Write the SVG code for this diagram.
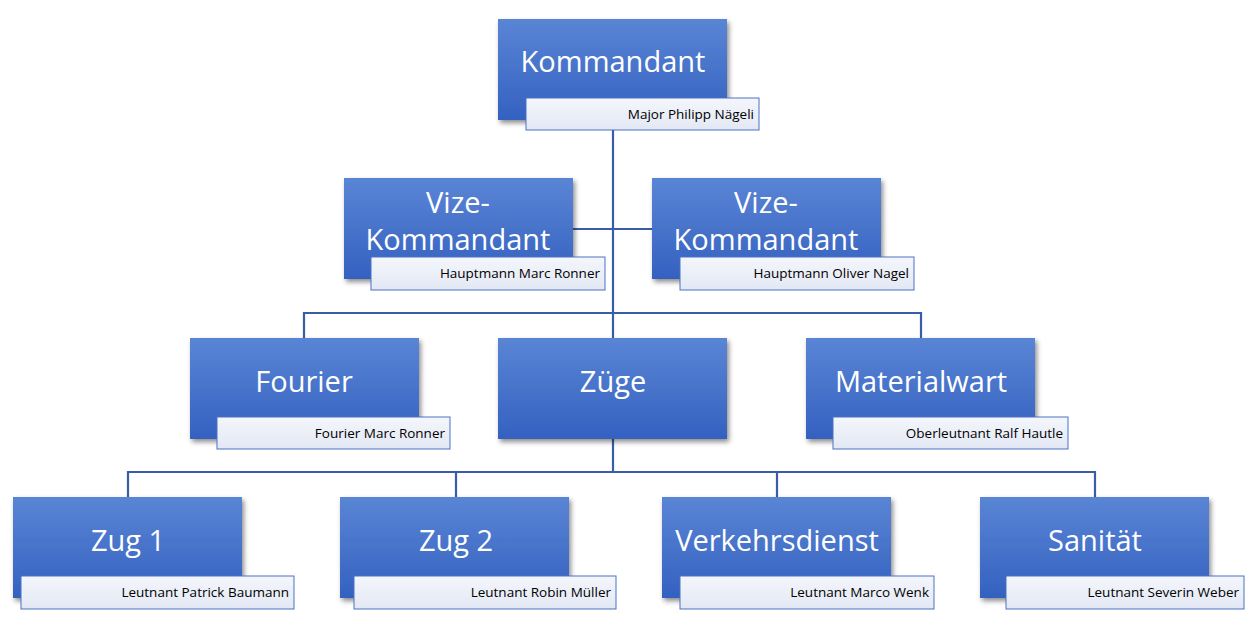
<svg xmlns="http://www.w3.org/2000/svg" width="1258" height="629" viewBox="0 0 1258 629">
<defs>
<linearGradient id="g" x1="0" y1="0" x2="0" y2="1"><stop offset="0" stop-color="#5A85D5"/><stop offset="1" stop-color="#3461C0"/></linearGradient>
<linearGradient id="lg" x1="0" y1="0" x2="0" y2="1"><stop offset="0" stop-color="#F4F6FB"/><stop offset="1" stop-color="#E2E8F4"/></linearGradient>
<filter id="sh" x="-10%" y="-10%" width="130%" height="130%"><feDropShadow dx="2" dy="3" stdDeviation="2.5" flood-color="#000" flood-opacity="0.45"/></filter>
</defs>
<style>
.b{fill:url(#g);filter:url(#sh)}
.l{fill:url(#lg);stroke:#4A72C4;stroke-width:1}
.t{font-family:"Open Sans","Liberation Sans",sans-serif;font-size:29px;fill:#fff;text-anchor:middle}
.s{font-family:"Open Sans","Liberation Sans",sans-serif;font-size:13.5px;fill:#000;text-anchor:end}
.c{stroke:#3A5DA8;stroke-width:2.2;fill:none}
</style>
<rect width="1258" height="629" fill="#fff"/>
<g id="connectors">
<path class="c" d="M613 130V472M573 229H652M304 338V313H921V338M613 313V338M128 497V472H1095V497M456 472V497M777 472V497"/>
</g>
<g id="kommandant"><rect class="b" x="498" y="19" width="229" height="101"/><text class="t" x="613" y="72">Kommandant</text><rect class="l" x="526" y="98" width="233" height="32"/><text class="s" x="754" y="119">Major Philipp Nägeli</text></g>
<g id="vize1"><rect class="b" x="344" y="178" width="229" height="101"/><text class="t" x="458" y="213">Vize-</text><text class="t" x="458" y="250">Kommandant</text><rect class="l" x="371" y="257" width="234" height="33"/><text class="s" x="600" y="278">Hauptmann Marc Ronner</text></g>
<g id="vize2"><rect class="b" x="652" y="178" width="229" height="101"/><text class="t" x="766" y="213">Vize-</text><text class="t" x="766" y="250">Kommandant</text><rect class="l" x="680" y="257" width="234" height="33"/><text class="s" x="909" y="278">Hauptmann Oliver Nagel</text></g>
<g id="fourier"><rect class="b" x="190" y="338" width="229" height="101"/><text class="t" x="304" y="392">Fourier</text><rect class="l" x="217" y="417" width="233" height="32"/><text class="s" x="445" y="438">Fourier Marc Ronner</text></g>
<g id="zuege"><rect class="b" x="498" y="338" width="229" height="101"/><text class="t" x="613" y="392">Züge</text></g>
<g id="materialwart"><rect class="b" x="806" y="338" width="229" height="101"/><text class="t" x="921" y="392">Materialwart</text><rect class="l" x="833" y="417" width="235" height="32"/><text class="s" x="1063" y="438">Oberleutnant Ralf Hautle</text></g>
<g id="zug1"><rect class="b" x="13" y="497" width="229" height="101"/><text class="t" x="128" y="551">Zug 1</text><rect class="l" x="21" y="576" width="273" height="33"/><text class="s" x="289" y="597">Leutnant Patrick Baumann</text></g>
<g id="zug2"><rect class="b" x="340" y="497" width="229" height="101"/><text class="t" x="456" y="551">Zug 2</text><rect class="l" x="354" y="576" width="262" height="33"/><text class="s" x="611" y="597">Leutnant Robin Müller</text></g>
<g id="verkehrsdienst"><rect class="b" x="662" y="497" width="229" height="101"/><text class="t" x="777" y="551">Verkehrsdienst</text><rect class="l" x="680" y="576" width="254" height="33"/><text class="s" x="929" y="597">Leutnant Marco Wenk</text></g>
<g id="sanitaet"><rect class="b" x="980" y="497" width="229" height="101"/><text class="t" x="1095" y="551">Sanität</text><rect class="l" x="1006" y="576" width="238" height="33"/><text class="s" x="1239" y="597">Leutnant Severin Weber</text></g>
</svg>
